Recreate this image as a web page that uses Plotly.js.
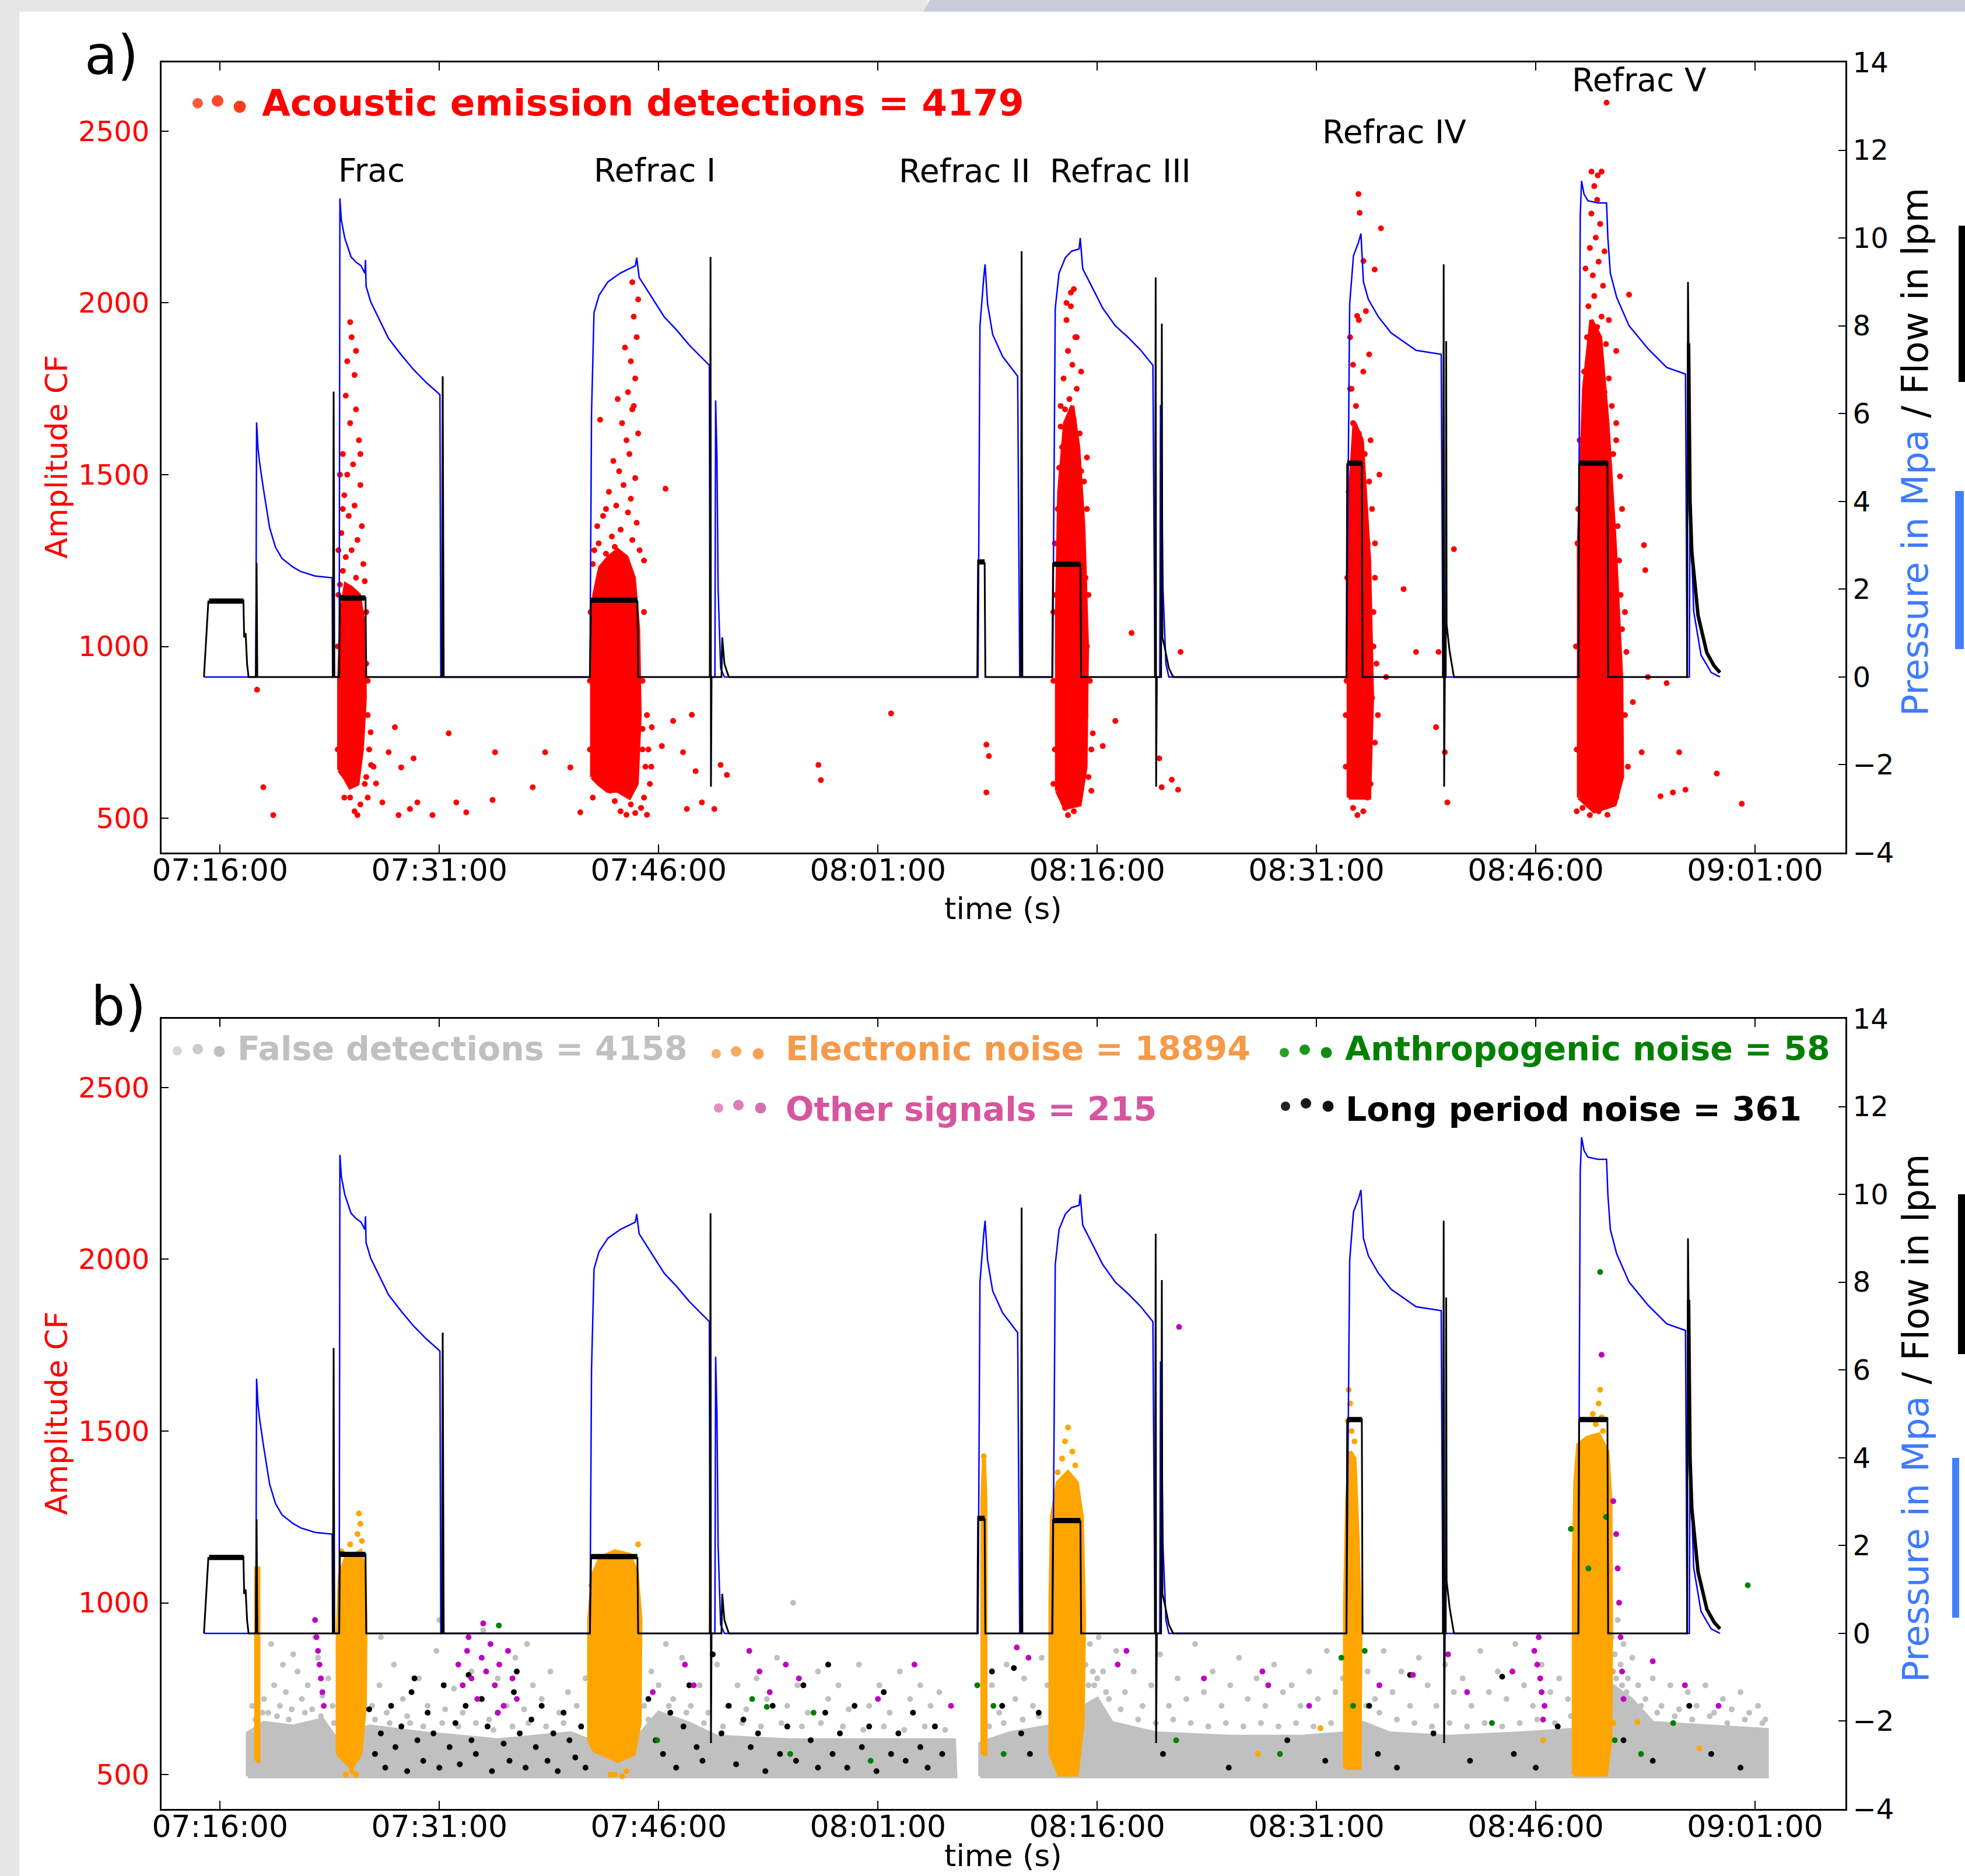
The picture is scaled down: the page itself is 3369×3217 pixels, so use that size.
<!DOCTYPE html>
<html><head><meta charset="utf-8">
<script src="https://cdn.plot.ly/plotly-3.0.1.min.js"></script>
<style>html,body{margin:0;padding:0;background:#fff}#chart{width:3369px;height:3217px}</style>
</head><body><div id="chart"></div>
<script>
// ---------- DATA (time = minutes after 07:00, left axis = Amplitude CF, right axis = MPa / lpm) ----------
const tickMinutes = [16, 31, 46, 61, 76, 91, 106, 121];
const tickLabels = ['07:16:00','07:31:00','07:46:00','08:01:00','08:16:00','08:31:00','08:46:00','09:01:00'];
const ampTicks = [500, 1000, 1500, 2000, 2500];

const pressure = [
[14.9,0],[18.45,0],[18.5,5.8],[18.6,5.2],[18.7,4.9],[18.96,4.3],[19.39,3.4],[19.8,2.95],[20.24,2.7],[21.0,2.5],[21.53,2.4],[22.5,2.3],[23.67,2.26],[23.7,0],
[24.15,0],[24.2,10.9],[24.3,10.4],[24.53,10.0],[24.96,9.57],[25.3,9.45],[25.64,9.37],[25.9,9.2],[25.95,9.5],[25.99,8.9],[26.3,8.55],[26.67,8.3],[27.53,7.71],[28.39,7.34],[29.24,7.0],[30.1,6.71],[31.04,6.43],[31.1,0],
[41.3,0],[41.41,6.0],[41.58,8.3],[41.93,8.7],[42.53,9.0],[43.38,9.2],[44.41,9.37],[44.5,9.55],[44.67,9.1],[45.53,8.65],[46.39,8.2],[47.24,7.9],[48.1,7.56],[49.47,7.1],[49.52,0],
[49.85,0],[49.9,6.3],[49.99,5.0],[50.07,2.0],[50.24,0.2],[50.5,0],
[67.85,0],[67.98,8.0],[68.24,9.1],[68.33,9.4],[68.5,8.5],[68.85,7.8],[69.53,7.3],[70.56,6.85],[70.7,0],
[72.95,0],[73.13,8.4],[73.39,9.2],[73.82,9.55],[74.25,9.7],[74.76,9.75],[74.84,10.0],[75.01,9.3],[75.53,8.95],[76.38,8.4],[77.24,8.0],[78.1,7.74],[78.96,7.45],[79.81,7.1],[79.95,0],
[80.28,0],[80.33,6.2],[80.4,5.0],[80.5,2.0],[80.7,0.3],[80.9,0],
[93.05,0],[93.27,8.5],[93.53,9.6],[93.87,9.9],[94.04,10.1],[94.21,9.0],[94.55,8.6],[95.24,8.2],[96.1,7.84],[97.81,7.44],[99.53,7.35],[99.65,0],
[108.9,0],[109.04,10.5],[109.13,11.3],[109.3,11.0],[109.56,10.85],[110.24,10.8],[110.84,10.8],[110.93,10.0],[111.1,9.2],[111.53,8.65],[112.38,8.0],[113.67,7.48],[114.96,7.05],[116.24,6.9],[116.35,0],
[116.5,0],[116.55,4.0],[116.8,1.5],[117.3,0.5],[118.0,0.1],[118.6,0]
];

const flow = [
[14.9,0],[15.05,0.9],[15.2,1.72],[16.0,1.75],[17.0,1.72],[17.6,1.74],[17.65,0.9],[17.75,1.0],[17.85,0.3],[17.95,0],
[18.45,0],[18.5,2.6],[18.55,0],
[23.72,0],[23.77,6.5],[23.82,0],
[24.15,0],[24.2,1.85],[25.95,1.8],[26.0,0],
[31.18,0],[31.23,6.85],[31.3,0],
[41.3,0],[41.38,1.78],[44.55,1.72],[44.6,0],
[49.5,0],[49.55,9.57],[49.58,-2.5],[49.62,0],[50.3,0],[50.35,0.9],[50.5,0.3],[50.8,0],
[67.8,0],[67.85,2.65],[68.3,2.6],[68.35,0],
[70.78,0],[70.83,9.7],[70.88,0],
[72.92,0],[72.98,2.58],[74.85,2.55],[74.9,0],
[79.95,0],[80.0,9.1],[80.03,-2.5],[80.08,0],[80.37,0],[80.42,8.05],[80.46,0.9],[80.6,0.7],[80.9,0.2],[81.2,0],
[93.05,0],[93.1,4.85],[94.1,4.88],[94.15,0],
[99.65,0],[99.7,9.4],[99.73,-2.5],[99.78,0],[99.84,0],[99.87,7.65],[99.9,1.2],[100.1,0.6],[100.4,0],
[108.92,0],[108.96,4.85],[110.9,4.9],[110.95,0],
[116.35,0],[116.41,9.0],[116.45,7.6],[116.55,4.0],[116.67,2.85],[117.1,1.4],[117.7,0.55],[118.2,0.25],[118.6,0.1]
];
// noisy (thick) parts of the flow record: [start, end, level]
const flowPlateaus = [[15.25,17.6,1.73],[24.2,25.95,1.8],[41.4,44.55,1.75],[67.85,68.3,2.62],[72.98,74.85,2.57],[93.1,94.1,4.87],[108.96,110.9,4.87]];
const flowTailV = [[116.45,7.6],[116.55,4.0],[116.67,2.85],[117.1,1.4],[117.7,0.55],[118.2,0.25],[118.6,0.1]];

// panel a: acoustic emission detections (dense cores as outlines + individual points)
const aeCores = [
[[24.15,640],[24.15,900],[24.3,1100],[24.6,1180],[25.0,1170],[25.5,1150],[25.85,1060],[25.9,850],[25.7,700],[25.4,600],[24.9,590],[24.5,620]],
[[41.45,620],[41.45,1000],[41.6,1150],[42.0,1230],[42.6,1260],[43.2,1280],[43.8,1260],[44.3,1200],[44.6,1050],[44.7,800],[44.5,600],[44.0,560],[43.2,580],[42.5,580],[41.9,600]],
[[73.25,580],[73.25,1100],[73.4,1450],[73.8,1650],[74.3,1700],[74.7,1580],[75.05,1350],[75.3,1000],[75.2,650],[74.8,540],[73.8,530]],
[[93.2,560],[93.2,1000],[93.3,1450],[93.6,1650],[94.1,1600],[94.6,1250],[94.8,850],[94.6,560]],
[[108.95,560],[108.95,1300],[109.3,1750],[109.8,1950],[110.4,1900],[110.9,1650],[111.4,1300],[111.85,900],[111.9,620],[111.4,540],[110.0,520]]
];
const aePoints = [
[18.53,874],[18.96,590],[19.64,509],
[24.9,1944],[25.0,1900],[24.7,1830],[25.2,1790],[24.6,1730],[25.3,1690],[24.9,1650],[25.5,1600],[24.4,1560],[25.1,1530],[24.7,1500],[25.6,1470],[24.5,1440],[25.2,1410],[24.8,1380],[25.7,1350],[24.3,1330],[25.4,1310],[25.0,1280],[24.6,1260],[25.8,1240],[24.4,1220],[25.3,1200],[25.9,1190],[24.2,1180],[26.0,950],[26.1,800],[26.2,700],[24.1,1280],[25.6,1560],[25.3,1860],
[24.05,700],[24.05,1000],[24.1,1150],[26.0,1100],[26.1,900],[26.3,750],[24.4,1400],[24.2,1500],[26.5,650],[26.0,620],
[24.9,560],[25.2,520],[25.6,540],[25.9,600],[26.1,560],[24.5,560],[25.4,509],
[26.33,655],[26.67,601],[27.1,546],[27.53,692],[27.96,765],[28.39,648],[28.21,509],[28.99,527],[29.24,674],[29.5,546],[30.53,509],[31.64,747],[32.16,546],[32.84,517],[34.81,692],[34.64,553],[37.39,590],[38.24,692],[39.96,648],[40.64,517],
[44.2,2060],[44.6,2010],[44.3,1960],[44.5,1900],[43.7,1870],[44.1,1830],[44.4,1780],[43.9,1740],[44.2,1690],[43.5,1650],[44.6,1620],[43.8,1600],[44.0,1560],[42.9,1540],[43.3,1510],[44.4,1490],[43.6,1470],[42.6,1450],[44.1,1430],[43.1,1410],[43.9,1390],[42.2,1380],[44.5,1360],[43.4,1340],[42.8,1320],[44.2,1310],[41.9,1300],[41.6,1280],[43.0,1290],[44.7,1280],[42.4,1270],[45.0,1250],[41.5,1240],[44.3,1700],[43.2,1720],[42.0,1660],
[41.3,700],[41.3,900],[41.35,1100],[44.9,900],[45.0,1100],[44.9,700],[45.2,800],[41.8,1350],[42.4,1400],[45.5,650],[41.5,560],
[43.4,520],[43.8,510],[44.1,540],[44.4,515],[44.8,530],[45.0,560],[45.2,510],[43.0,550],[42.7,580],[45.4,600],[45.1,650],[45.3,700],[44.9,760],
[45.53,765],[46.22,710],[46.99,783],[47.67,692],[48.27,801],[48.53,637],[48.96,546],[47.93,527],[49.81,527],[50.24,655],[50.67,626],[46.47,1459],[56.93,655],[57.1,611],[61.9,805],[68.42,714],[68.59,681],[68.42,575],
[74.4,2040],[74.2,1990],[73.9,1950],[74.5,1900],[74.0,1860],[74.3,1820],[73.7,1780],[74.6,1750],[74.1,1720],[73.8,1690],[74.4,1660],[73.5,1640],[74.8,1620],[74.0,1600],[73.6,1580],[74.3,1560],[74.7,1540],[73.4,1520],[74.9,1510],[75.1,1480],[75.3,1400],[75.2,1200],[75.3,1000],[73.1,1300],[73.0,1100],[75.2,800],[75.4,620],[74.0,509],[74.4,520],[73.8,530],
[73.1,700],[73.0,900],[73.15,1150],[73.3,1400],[75.4,1150],[75.5,900],[75.6,700],[75.3,1550],[73.5,1700],[74.9,1800],[74.6,1900],[73.9,2000],[75.6,580],[73.0,600],[74.2,2030],
[75.7,747],[76.38,710],[77.24,783],[78.35,1039],[80.24,674],[80.41,590],[81.1,612],[81.7,984],[81.53,583],
[93.87,2317],[93.95,2262],[94.21,2122],[94.98,2097],[95.41,2217],[93.78,1962],[94.38,1976],
[93.3,1900],[93.5,1820],[93.4,1750],[93.7,1700],[93.5,1650],[93.9,1620],[94.3,1560],[94.0,1500],[94.6,1480],[93.2,1450],[94.8,1400],[94.5,1300],[95.0,1200],[94.9,1100],[95.1,950],[94.8,850],[95.0,720],[94.7,600],[93.0,800],[93.0,650],[93.8,509],[94.2,520],[93.5,530],[94.5,560],
[93.1,1200],[93.05,900],[93.1,650],[94.9,1000],[95.0,1300],[94.7,1600],[93.3,1750],[94.2,1800],[95.2,800],[93.9,1950],[94.6,1850],[95.3,1500],
[100.4,1283],[99.35,984],[99.78,692],[99.95,546],[99.18,765],[97.81,984],[96.96,1167],[95.76,911],
[110.84,2583],[109.81,2382],[110.5,2382],[110.24,2371],
[110.0,2340],[110.2,2300],[109.8,2260],[110.4,2230],[110.1,2190],[109.7,2160],[110.3,2120],[109.9,2080],[110.6,2050],[110.0,2020],[109.6,1990],[110.5,1960],[110.2,1930],[109.5,1900],[110.8,1880],[109.9,1850],[110.4,1820],[109.3,1800],[111.0,1780],[110.7,1740],[111.2,1700],[111.5,1650],[111.3,1560],[108.9,1400],[111.6,1350],[111.7,1250],[111.8,1150],[111.9,1050],[111.6,950],[111.6,850],[111.7,750],[111.6,650],[111.5,560],[110.9,510],[110.3,520],[109.7,509],[109.2,530],
[108.8,700],[108.75,1000],[108.85,1300],[109.0,1600],[112.1,800],[112.1,1100],[111.9,1400],[111.5,1600],[111.0,1950],[109.4,2100],[110.7,2150],[112.3,650],[108.8,520],
[112.38,2024],[112.2,984],[113.4,1295],[113.49,1222],[114.95,893],[116.24,583],[115.81,692],[114.53,564],[115.38,575],[118.38,630],[120.09,542],[112.64,838],[113.24,692],[113.67,911],[111.5,1860],[111.76,1495]
];

// panel b: classified detections
const falseBands = [
[[17.9,495],[17.9,620],[19,650],[21,640],[23,660],[24.0,600],[26.2,640],[30,620],[35,600],[40,620],[41.2,600],[44.8,620],[46,680],[48,650],[50,610],[55,600],[60,600],[66.2,600],[66.3,495]],
[[68.0,495],[68.0,590],[68.6,600],[70,620],[72.7,640],[75.2,700],[76,720],[77,650],[80,620],[85,610],[90,610],[92.9,620],[94.2,650],[96,620],[100,610],[105,620],[108.5,630],[111.2,760],[112.5,720],[114,650],[118,640],[121.8,630],[121.8,495]]
];
const falsePoints = [
[18.2,700],[18.6,650],[19.0,720],[19.3,680],[19.7,760],[20.1,700],[20.5,740],[20.9,690],[21.3,800],[21.6,720],[22.0,760],[22.3,690],[22.7,840],[23.0,730],[23.4,780],[23.7,700],[19.5,880],[21.0,850],[22.5,900],[20.3,820],
[26.4,700],[26.9,760],[27.4,680],[27.9,820],[28.5,720],[29.0,650],[29.6,780],[30.2,700],[30.8,860],[31.4,690],[32.0,750],[32.6,680],[33.2,800],[33.8,720],[34.4,660],[35.0,780],[35.6,700],[36.2,840],[36.8,690],[37.4,760],[38.0,720],[38.6,800],[39.2,680],[39.8,740],[40.4,700],[41.0,780],[27.0,900],[31.0,950],[34.0,920],[37.0,880],
[45.0,700],[45.5,800],[46.0,760],[46.5,880],[47.0,720],[47.6,840],[48.2,700],[48.8,760],[49.4,680],[50.0,820],[50.7,700],[51.4,760],[52.0,690],[52.7,780],[53.4,720],[54.1,840],[54.8,700],[55.2,1000],[55.5,760],[56.2,680],[56.9,800],[57.6,720],[58.3,760],[59.0,690],[59.7,820],[60.4,700],[61.1,760],[61.8,680],[62.5,800],[63.2,720],[63.9,760],[64.6,700],[65.2,740],
[68.3,700],[68.8,760],[69.3,680],[69.8,820],[70.4,720],[71.0,780],[71.6,700],[72.2,840],[72.6,760],
[75.2,820],[75.5,880],[75.8,760],[76.1,900],[76.4,800],[76.8,720],[77.3,860],[77.9,740],[78.5,800],[79.1,700],[79.7,760],[80.3,850],[80.9,700],[81.5,780],[82.1,720],[82.7,880],[83.3,740],[83.9,800],[84.5,700],[85.1,760],[85.7,840],[86.3,720],[86.9,780],[87.5,700],[88.1,820],[88.7,740],[89.3,760],[89.9,700],[90.5,800],[91.1,720],[91.7,860],[92.3,740],[92.8,780],
[94.5,800],[95.0,720],[95.6,860],[96.2,740],[96.8,800],[97.4,700],[98.0,840],[98.6,760],[99.2,700],[99.8,820],[100.4,740],[101.0,780],[101.6,700],[102.2,860],[102.8,740],[103.4,800],[104.0,720],[104.6,880],[105.2,760],[105.8,700],[106.4,820],[107.0,740],[107.6,780],[108.2,720],
[111.2,900],[111.4,850],[111.6,950],[111.8,820],[112.0,880],[112.3,780],[112.6,840],[113.0,760],[113.5,720],[114.0,780],[114.6,700],[115.2,760],[115.8,690],[116.4,740],[117.0,700],[117.6,760],[118.2,680],[118.8,720],[119.4,690],[120.0,740],[120.6,680],[121.2,700],[121.7,660],
[18.4,660],[18.9,680],[19.9,670],[20.7,660],[21.8,680],[22.9,670],[23.8,650],[26.6,660],[27.6,650],[28.8,670],[29.9,640],[31.2,650],[32.3,640],[33.5,650],[34.7,630],[36.0,640],[37.1,650],[38.3,640],[39.5,650],[40.7,640],
[45.3,660],[46.7,700],[47.9,680],[49.1,650],[50.4,640],[51.7,650],[53.0,640],[54.4,650],[55.8,640],[57.1,650],[58.6,640],[60.0,630],[61.4,640],[62.8,630],[64.2,640],[65.6,630],
[68.6,640],[69.6,650],[70.9,660],[72.0,670],[75.4,760],[75.7,800],[76.0,780],[76.6,740],[77.6,690],[78.8,660],[80.0,650],[81.2,660],[82.4,650],[83.6,640],[84.8,650],[86.0,640],[87.2,650],[88.4,640],[89.6,650],[90.8,640],[92.0,650],
[94.4,700],[95.3,680],[96.5,660],[97.7,650],[98.9,640],[100.1,650],[101.3,640],[102.5,650],[103.7,640],[104.9,650],[106.1,660],[107.3,650],[108.4,670],
[111.3,800],[111.5,780],[111.9,760],[112.2,740],[113.2,700],[114.3,680],[115.5,670],[116.7,660],[117.9,670],[119.1,650],[120.3,660],[121.5,650]
];
const elecCores = [
[[18.47,540],[18.47,1100],[18.62,1100],[18.62,540]],
[[24.05,560],[24.05,900],[24.2,1080],[24.6,1130],[25.2,1140],[25.6,1150],[25.85,1100],[25.95,950],[25.9,700],[25.6,560],[25.0,520],[24.5,540]],
[[41.25,600],[41.25,950],[41.5,1080],[42.0,1130],[43.0,1150],[44.0,1140],[44.5,1090],[44.75,950],[44.7,650],[44.3,560],[43.2,540],[42.2,560],[41.6,570]],
[[68.15,560],[68.15,1300],[68.25,1420],[68.35,1300],[68.35,560]],
[[72.8,560],[72.8,1000],[72.9,1250],[73.3,1350],[74.0,1380],[74.6,1350],[74.95,1250],[75.1,950],[75.0,650],[74.6,500],[73.4,500],[73.0,540]],
[[92.95,520],[92.95,1000],[93.1,1300],[93.3,1440],[93.6,1420],[93.8,1200],[94.0,900],[93.95,520]],
[[108.6,500],[108.6,1100],[108.7,1350],[108.9,1460],[109.5,1480],[110.3,1490],[110.9,1440],[111.1,1300],[111.15,900],[111.1,600],[110.8,500]]
];
const elecPoints = [
[25.5,1260],[25.6,1230],[25.4,1200],[25.7,1180],[24.9,1170],[24.3,1150],[24.6,500],[25.0,510],[25.3,500],
[43.0,500],[43.8,510],[42.7,500],[43.5,495],[41.4,1050],[44.6,1170],
[68.24,1427],
[74.0,1510],[73.8,1470],[74.3,1440],[73.6,1420],[74.5,1400],[73.3,1380],
[93.2,1620],[93.3,1580],[93.15,1530],[93.4,1500],[93.6,1470],
[110.4,1620],[110.3,1580],[110.5,1540],[109.9,1550],[110.1,1520],[110.6,1500],[111.2,800],[111.3,650],
[91.27,635],[112.94,653],[117.2,576],[106.5,600],[87.0,560]
];
const longPoints = [
[26.2,690],[26.6,560],[27.0,620],[27.3,520],[27.7,700],[28.0,580],[28.4,640],[28.8,510],[29.1,740],[29.5,600],[29.9,540],[30.2,680],[30.6,620],[31.0,520],[31.3,760],[31.7,580],[32.1,650],[32.4,530],[32.8,700],[33.2,600],[33.5,560],[33.9,720],[34.3,640],[34.6,510],[35.0,680],[35.4,590],[35.8,540],[36.1,740],[36.5,620],[36.9,520],[37.3,660],[37.6,580],[38.0,700],[38.4,540],[38.8,620],[39.1,510],[39.5,680],[39.9,600],[40.3,550],[40.7,640],[41.0,520],[36.3,800],[33.0,790],[29.3,780],
[45.3,720],[45.8,600],[46.3,560],[46.8,680],[47.2,520],[47.7,640],[48.1,760],[48.6,580],[49.0,540],[50.3,620],[50.8,700],[51.3,530],[51.8,660],[52.3,580],[52.8,620],[53.3,510],[53.8,700],[54.3,560],[54.8,640],[55.4,540],[55.9,760],[56.4,600],[56.9,520],[57.4,680],[57.9,560],[58.4,620],[58.9,520],[59.4,700],[59.9,580],[60.4,640],[60.9,510],[61.4,740],[61.9,560],[62.4,620],[62.9,540],[63.4,680],[63.9,580],[64.4,520],[64.9,640],[65.4,560],[49.7,850],[57.6,820],
[68.8,800],[69.5,700],[70.3,810],[70.8,620],[71.4,560],[72.0,680],
[80.5,560],[85.0,520],[89.0,600],[91.6,540],
[94.6,700],[95.2,560],[96.5,520],[97.4,790],[99.0,620],[101.5,540],[103.7,785],[104.5,560],[106.0,520],[107.5,640],
[112.0,600],[114.0,540],[116.5,700],[118.0,560],[120.0,520]
];
const otherPoints = [
[22.6,900],[22.7,860],[22.8,820],[22.9,780],[23.0,740],[22.5,950],[23.1,700],
[32.3,820],[32.6,760],[32.9,860],[33.2,780],[33.6,720],[33.9,840],[34.2,800],[34.5,880],[34.8,760],[35.1,820],[35.4,700],[35.7,860],[36.0,780],[33.0,900],[34.0,940],[35.0,680],[36.3,720],
[45.6,740],[47.8,820],[48.4,760],
[52.2,860],[52.9,800],[53.6,740],[54.7,820],[55.6,780],
[61.0,720],[63.5,820],[66.0,700],
[70.5,870],[71.3,840],[77.4,820],[78.0,860],
[81.6,1803],[83.3,780],[87.3,800],[87.7,760],[90.5,700],
[95.3,760],[97.6,790],[100.0,850],[101.3,740],[104.4,800],
[105.9,860],[106.1,820],[106.3,780],[106.4,740],[106.6,700],[106.2,900],[106.5,660],
[110.5,1722],[111.3,1296],[111.5,1200],[111.6,1100],[111.7,1000],[111.8,900],[111.9,800],[112.0,720],
[114.0,830],[116.2,760],[118.5,700]
];
const anthroPoints = [
[35.07,934],[45.9,600],[52.4,720],[53.4,697],[55.0,560],[56.6,680],[60.5,540],[67.8,760],[68.9,700],[69.6,560],[81.4,600],[88.5,560],[92.7,840],[93.5,700],[94.3,860],[103.0,650],[108.4,1215],[109.6,1100],[110.4,1963],[110.8,1250],[111.4,600],[113.2,560],[115.4,650],[120.5,1051]
];

// ---------- BUILD ----------
const W = 3369, H = 3217;
const FN = "'DejaVu Sans', 'Liberation Sans', sans-serif";
const BASE = Date.UTC(2016,0,1,7,0,0);
function tm(m){ return new Date(BASE + Math.round(m*60000)).toISOString().replace('T',' ').replace('Z',''); }
function pts(list, color, xa, ya, size){
  return {type:'scatter', mode:'markers', x:list.map(p=>tm(p[0])), y:list.map(p=>p[1]), xaxis:xa, yaxis:ya,
    marker:{color:color, size:size||10, line:{width:0}}, hoverinfo:'skip'};
}
function polys(list, color, xa, ya){
  const x=[], y=[];
  list.forEach((poly,i)=>{ if(i){x.push(null);y.push(null);} poly.concat([poly[0]]).forEach(p=>{x.push(tm(p[0]));y.push(p[1]);}); });
  return {type:'scatter', mode:'lines', x:x, y:y, fill:'toself', fillcolor:color, line:{color:color, width:7}, xaxis:xa, yaxis:ya, hoverinfo:'skip', connectgaps:false};
}
function line(list, color, width, xa, ya){
  return {type:'scatter', mode:'lines', x:list.map(p=>tm(p[0])), y:list.map(p=>p[1]), xaxis:xa, yaxis:ya,
    line:{color:color, width:width}, hoverinfo:'skip'};
}
function segs(list, color, width, xa, ya){
  const x=[], y=[];
  list.forEach((s,i)=>{ if(i){x.push(null);y.push(null);} x.push(tm(s[0]),tm(s[1])); y.push(s[2],s[2]); });
  return {type:'scatter', mode:'lines', x:x, y:y, xaxis:xa, yaxis:ya, line:{color:color, width:width}, hoverinfo:'skip', connectgaps:false};
}
function flowTraces(xa, ya){
  return [line(pressure, '#0000ff', 2.5, xa, ya), line(flow, '#000000', 3, xa, ya),
          segs(flowPlateaus, '#000000', 9, xa, ya), line(flowTailV, '#000000', 6, xa, ya)];
}

const traces = [
  polys(aeCores, '#ff0000', 'x', 'y'),
  pts(aePoints, '#ff0000', 'x', 'y'),
  ...flowTraces('x','y2'),
  polys(falseBands, '#c0c0c0', 'x2', 'y3'),
  pts(falsePoints, '#c0c0c0', 'x2', 'y3'),
  polys(elecCores, '#ffa500', 'x2', 'y3'),
  pts(elecPoints, '#ffa500', 'x2', 'y3'),
  pts(longPoints, '#000000', 'x2', 'y3'),
  pts(otherPoints, '#c000c0', 'x2', 'y3'),
  pts(anthroPoints, '#008000', 'x2', 'y3'),
  ...flowTraces('x2','y4')
];

const xDom = [277/W, 3164/W];
const yDomA = [1-1462/H, 1-107/H];
const yDomB = [1-3102/H, 1-1747/H];
function xAx(anchor){
  return {domain:xDom, anchor:anchor, type:'date', range:[tm(12), tm(127.18)],
    tickmode:'array', tickvals:tickMinutes.map(tm), ticktext:tickLabels,
    ticks:'inside', ticklen:14, tickwidth:2, tickcolor:'#000', showline:true, linewidth:3, linecolor:'#000',
    mirror:'ticks', showgrid:false, zeroline:false, ticklabelstandoff:-17, tickfont:{family:FN, size:52, color:'#000'}};
}
function yLeft(dom, anchor){
  return {domain:dom, anchor:anchor, range:[400,2700], tickmode:'array', tickvals:ampTicks,
    ticks:'inside', ticklen:12, tickwidth:2, tickcolor:'#000', showline:true, linewidth:3, linecolor:'#000',
    showgrid:false, zeroline:false, ticklabelstandoff:8, tickfont:{family:FN, size:48, color:'#ff0000'}};
}
function yRight(over, anchor){
  return {overlaying:over, anchor:anchor, side:'right', range:[-4,14], tickmode:'linear', tick0:-4, dtick:2,
    ticks:'inside', ticklen:12, tickwidth:2, tickcolor:'#000', showline:true, linewidth:3, linecolor:'#000',
    showgrid:false, zeroline:false, tickfont:{family:FN, size:48, color:'#000'}};
}

function ann(text, x, y, size, color, extra){
  return Object.assign({text:text, x:x/W, y:1-y/H, xref:'paper', yref:'paper', showarrow:false,
    font:{family:FN, size:size, color:color}, xanchor:'center', yanchor:'middle'}, extra||{});
}
const rightTitle = "<span style='color:#3f7bff'>Pressure in Mpa</span> / Flow in lpm";
const annotations = [
  ann('a)', 191, 95, 92, '#000'),
  ann('b)', 203, 1726, 92, '#000'),
  ann('Amplitude CF', 97, 784, 52, '#ff0000', {textangle:-90}),
  ann('Amplitude CF', 97, 2424, 52, '#ff0000', {textangle:-90}),
  ann('time (s)', 1720, 1558, 52, '#000'),
  ann('time (s)', 1720, 3182, 52, '#000'),
  ann(rightTitle, 3284, 775, 62, '#000', {textangle:-90}),
  ann(rightTitle, 3284, 2432, 62, '#000', {textangle:-90}),
  ann('Frac', 637, 292, 55, '#000'),
  ann('Refrac I', 1122, 292, 55, '#000'),
  ann('Refrac II', 1653, 293, 55, '#000'),
  ann('Refrac III', 1921, 293, 55, '#000'),
  ann('Refrac IV', 2390, 226, 55, '#000'),
  ann('Refrac V', 2810, 137, 55, '#000'),
  ann('<b>Acoustic emission detections = 4179</b>', 447, 177, 63, '#ff0000', {xanchor:'left'}),
  ann('<b>False detections = 4158</b>', 405, 1798, 57, '#c0c0c0', {xanchor:'left'}),
  ann('<b>Electronic noise = 18894</b>', 1345, 1798, 57, '#f59a4a', {xanchor:'left'}),
  ann('<b>Anthropogenic noise = 58</b>', 2304, 1798, 57, '#008000', {xanchor:'left'}),
  ann('<b>Other signals = 215</b>', 1345, 1902, 57, '#d6559e', {xanchor:'left'}),
  ann('<b>Long period noise = 361</b>', 2305, 1902, 57, '#000', {xanchor:'left'})
];

function rectPx(x0,y0,x1,y1,color){
  return {type:'rect', xref:'paper', yref:'paper', x0:x0/W, x1:x1/W, y0:1-y1/H, y1:1-y0/H, fillcolor:color, line:{width:0}, layer:'above'};
}
function dot(cx, cy, d, color){
  return {type:'circle', xref:'paper', yref:'paper', x0:(cx-d/2)/W, x1:(cx+d/2)/W, y0:1-(cy+d/2)/H, y1:1-(cy-d/2)/H, fillcolor:color, line:{width:0}, layer:'above'};
}
const shapes = [
  rectPx(0,0,33,H,'#e6e6e6'),
  rectPx(0,0,1590,20,'#e6e6e6'),
  {type:'path', xref:'paper', yref:'paper', path:`M ${1583/W} ${1-20/H} L ${1594/W} 1 L 1 1 L 1 ${1-20/H} Z`, fillcolor:'#c8ccd6', line:{width:0}, layer:'above'},
  rectPx(3358,387,3369,655,'#000000'),
  rectPx(3352,842,3367,1113,'#4080ff'),
  rectPx(3357,2048,3369,2322,'#000000'),
  rectPx(3347,2500,3359,2774,'#4080ff'),
  dot(339,177,18,'#ff5a3c'), dot(373,173,20,'#ff4a2a'), dot(411,183,21,'#ff3a1a'),
  dot(304,1802,16,'#d6d6d6'), dot(339,1799,18,'#cbcbcb'), dot(376,1803,19,'#c0c0c0'),
  dot(1228,1807,16,'#f9b070'), dot(1262,1803,18,'#f8a860'), dot(1300,1807,19,'#f8a050'),
  dot(2202,1805,16,'#2aa02a'), dot(2237,1800,18,'#1a961a'), dot(2274,1805,19,'#148c14'),
  dot(1232,1900,16,'#e88cc0'), dot(1266,1895,18,'#e07ab8'), dot(1304,1900,19,'#d870b0'),
  dot(2204,1897,16,'#222222'), dot(2239,1892,18,'#1a1a1a'), dot(2277,1897,19,'#111111')
];

const layout = {
  width:W, height:H, margin:{l:0,r:0,t:0,b:0}, paper_bgcolor:'#ffffff', plot_bgcolor:'#ffffff',
  showlegend:false, hovermode:false,
  xaxis:xAx('y'), yaxis:yLeft(yDomA,'x'), yaxis2:yRight('y','x'),
  xaxis2:xAx('y3'), yaxis3:yLeft(yDomB,'x2'), yaxis4:yRight('y3','x2'),
  annotations:annotations, shapes:shapes
};
Plotly.newPlot('chart', traces, layout, {staticPlot:true, displayModeBar:false});
</script></body></html>
